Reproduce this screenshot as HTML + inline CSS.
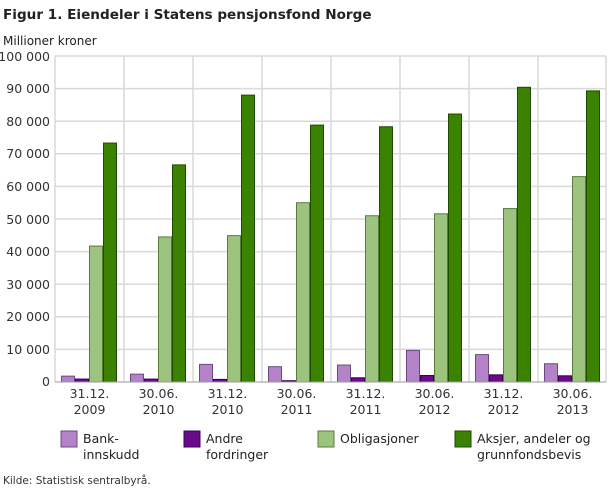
<!DOCTYPE html><html><head><style>body{margin:0;background:#fff}svg{font-family:"DejaVu Sans","Liberation Sans",sans-serif}</style></head><body>
<svg width="610" height="488" xmlns="http://www.w3.org/2000/svg">
<text x="3" y="19" font-size="13.6" font-weight="bold" fill="#222">Figur 1. Eiendeler i Statens pensjonsfond Norge</text>
<text x="3" y="45" font-size="12" fill="#222">Millioner kroner</text>
<g stroke="#d9d9d9" stroke-width="1.5">
<line x1="55" x2="606" y1="56" y2="56"/><line x1="55" x2="606" y1="88.6" y2="88.6"/><line x1="55" x2="606" y1="121.2" y2="121.2"/><line x1="55" x2="606" y1="153.8" y2="153.8"/><line x1="55" x2="606" y1="186.4" y2="186.4"/><line x1="55" x2="606" y1="219" y2="219"/><line x1="55" x2="606" y1="251.6" y2="251.6"/><line x1="55" x2="606" y1="284.2" y2="284.2"/><line x1="55" x2="606" y1="316.8" y2="316.8"/><line x1="55" x2="606" y1="349.4" y2="349.4"/>
<line x1="55" x2="55" y1="56" y2="382"/><line x1="124" x2="124" y1="56" y2="382"/><line x1="193" x2="193" y1="56" y2="382"/><line x1="262" x2="262" y1="56" y2="382"/><line x1="331" x2="331" y1="56" y2="382"/><line x1="400" x2="400" y1="56" y2="382"/><line x1="469" x2="469" y1="56" y2="382"/><line x1="538" x2="538" y1="56" y2="382"/><line x1="606" x2="606" y1="56" y2="382"/>
</g>
<g font-size="12.5" fill="#333" text-anchor="end">
<text x="50" y="61">100 000</text><text x="50" y="93">90 000</text><text x="50" y="126">80 000</text><text x="50" y="158">70 000</text><text x="50" y="191">60 000</text><text x="50" y="224">50 000</text><text x="50" y="256">40 000</text><text x="50" y="289">30 000</text><text x="50" y="321">20 000</text><text x="50" y="354">10 000</text><text x="50" y="386">0</text>
</g>
<g id="bars" stroke-width="1"></g>
<line x1="55" x2="606" y1="382" y2="382" stroke="#999"/>
<g font-size="12.5" fill="#333" text-anchor="middle" id="xl"></g>
<g font-size="12.5" fill="#222">
<rect x="61" y="431" width="16" height="16" fill="#b482c8" stroke="#6a4a80"/><text x="83" y="443">Bank-</text><text x="83" y="459">innskudd</text>
<rect x="184" y="431" width="16" height="16" fill="#6a0a8a" stroke="#3a0050"/><text x="206" y="443">Andre</text><text x="206" y="459">fordringer</text>
<rect x="318" y="431" width="16" height="16" fill="#9cc47e" stroke="#5a7a40"/><text x="340" y="443">Obligasjoner</text>
<rect x="455" y="431" width="16" height="16" fill="#3b8200" stroke="#1f4a00"/><text x="477" y="443">Aksjer, andeler og</text><text x="477" y="459">grunnfondsbevis</text>
</g>
<text x="3" y="484" font-size="10.5" fill="#333">Kilde: Statistisk sentralbyrå.</text>
<script>
var d=[[1800,900,41700,73300],[2400,900,44500,66600],[5400,800,44900,88000],[4700,400,55000,78800],[5200,1300,51000,78300],[9700,2000,51600,82200],[8400,2200,53200,90400],[5600,1900,63000,89300]];
var c=["#b482c8","#6a0a8a","#9cc47e","#3b8200"],s=["#6a4a80","#3a0050","#5a7a40","#1f4a00"];
var L=[["31.12.","2009"],["30.06.","2010"],["31.12.","2010"],["30.06.","2011"],["31.12.","2011"],["30.06.","2012"],["31.12.","2012"],["30.06.","2013"]];
var ns="http://www.w3.org/2000/svg",g=document.getElementById("bars"),x=document.getElementById("xl");
d.forEach(function(r,i){r.forEach(function(v,j){var e=document.createElementNS(ns,"rect");var h=v*0.00326;e.setAttribute("x",55+69*i+6+14*j+0.5);e.setAttribute("y",382-h);e.setAttribute("width",13);e.setAttribute("height",h);e.setAttribute("fill",c[j]);e.setAttribute("stroke",s[j]);g.appendChild(e);});
L[i].forEach(function(t,k){var e=document.createElementNS(ns,"text");e.setAttribute("x",55+69*i+34.5);e.setAttribute("y",398+16*k);e.textContent=t;x.appendChild(e);});});
</script>
</svg></body></html>
